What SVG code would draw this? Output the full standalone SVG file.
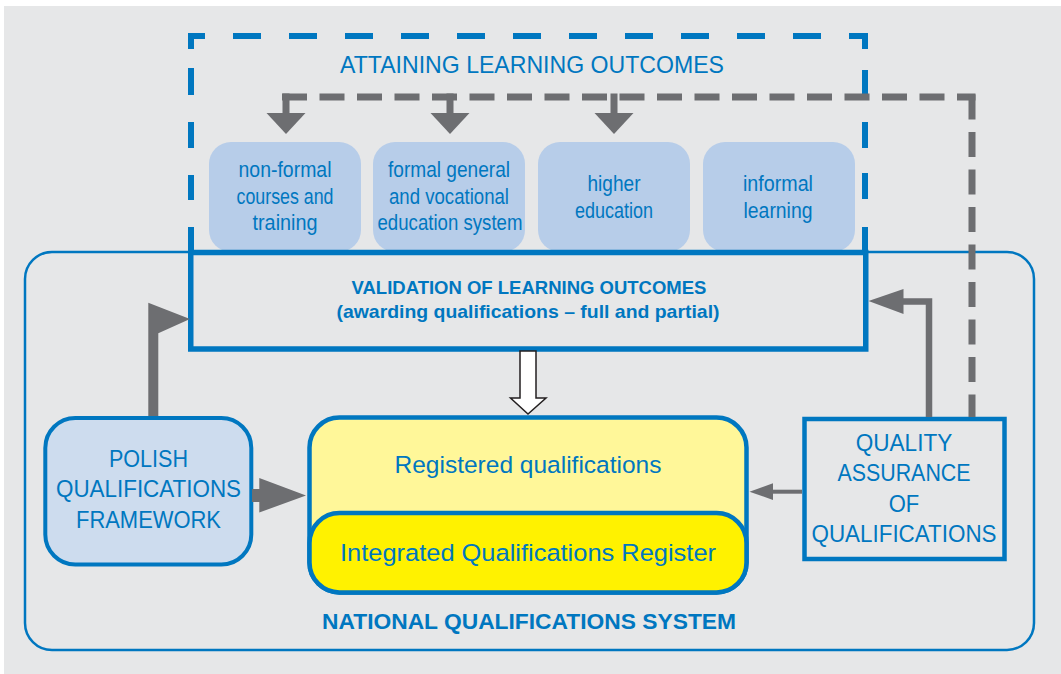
<svg xmlns="http://www.w3.org/2000/svg" width="1061" height="674" viewBox="0 0 1061 674">
<style>
.t{font-family:'Liberation Sans',Arial,sans-serif;fill:#0077c0;text-anchor:middle}
.b{font-weight:bold}
.src{fill:#b7cde9}
.bd{fill:none;stroke:#0077c0;stroke-width:6}
.gd{fill:none;stroke:#6d6e71;stroke-width:7;stroke-dasharray:25 12.5}
.g{fill:#6d6e71}
.gs{fill:none;stroke:#6d6e71}
</style>
<rect x="4" y="6" width="1057" height="668" fill="#e6e7e8"/>

<g id="national-qualifications-system">
<rect x="25" y="252" width="1009" height="398" rx="27" fill="none" stroke="#0077c0" stroke-width="2.5"/>
<text class="t b" x="529" y="629" font-size="22" textLength="414" lengthAdjust="spacingAndGlyphs">NATIONAL QUALIFICATIONS SYSTEM</text>
</g>

<g id="box-nonformal">
<rect class="src" x="209" y="142" width="152" height="110" rx="22"/>
<text class="t" x="285" y="177" font-size="22.5" textLength="93" lengthAdjust="spacingAndGlyphs">non-formal</text>
<text class="t" x="285" y="204" font-size="22.5" textLength="97" lengthAdjust="spacingAndGlyphs">courses and</text>
<text class="t" x="285" y="230" font-size="22.5" textLength="65" lengthAdjust="spacingAndGlyphs">training</text>
</g>
<g id="box-formal">
<rect class="src" x="373" y="142" width="152" height="110" rx="22"/>
<text class="t" x="449" y="177" font-size="22.5" textLength="122" lengthAdjust="spacingAndGlyphs">formal general</text>
<text class="t" x="449" y="204" font-size="22.5" textLength="120" lengthAdjust="spacingAndGlyphs">and vocational</text>
<text class="t" x="450" y="230" font-size="22.5" textLength="145" lengthAdjust="spacingAndGlyphs">education system</text>
</g>
<g id="box-higher">
<rect class="src" x="538" y="142" width="152" height="110" rx="22"/>
<text class="t" x="614" y="191" font-size="22.5" textLength="53" lengthAdjust="spacingAndGlyphs">higher</text>
<text class="t" x="614" y="218" font-size="22.5" textLength="78" lengthAdjust="spacingAndGlyphs">education</text>
</g>
<g id="box-informal">
<rect class="src" x="703" y="142" width="152" height="110" rx="22"/>
<text class="t" x="778" y="191" font-size="22.5" textLength="70" lengthAdjust="spacingAndGlyphs">informal</text>
<text class="t" x="778" y="218" font-size="22.5" textLength="69" lengthAdjust="spacingAndGlyphs">learning</text>
</g>

<g id="attaining-learning-outcomes">
<path class="bd" d="M188,36 H868" stroke-dasharray="28 28" stroke-dashoffset="11"/>
<path class="bd" d="M191,33 V253" stroke-dasharray="16 19 27 27 26 27 25 27 30"/>
<path class="bd" d="M865,33 V253" stroke-dasharray="16 21 25 27 26 25 26 28 30"/>
<text class="t" x="532" y="73" font-size="24.5" textLength="384" lengthAdjust="spacingAndGlyphs">ATTAINING LEARNING OUTCOMES</text>
</g>

<g id="validation">
<rect x="190.75" y="252.5" width="675" height="96.5" fill="none" stroke="#0077c0" stroke-width="5.5"/>
<text class="t b" x="529" y="294" font-size="18.5">VALIDATION OF LEARNING OUTCOMES</text>
<text class="t b" x="528" y="318" font-size="18.5" textLength="383" lengthAdjust="spacingAndGlyphs">(awarding qualifications – full and partial)</text>
</g>

<g id="registered-qualifications">
<rect x="309.5" y="417.5" width="437" height="175" rx="30" fill="#fff799" stroke="#0077c0" stroke-width="4.5"/>
<text class="t" x="528" y="472.5" font-size="24.5">Registered qualifications</text>
</g>
<g id="integrated-qualifications-register">
<rect x="309.5" y="513" width="437" height="79.5" rx="30" fill="#fff200" stroke="#0077c0" stroke-width="4.5"/>
<text class="t" x="528" y="561" font-size="24.5" textLength="376" lengthAdjust="spacingAndGlyphs">Integrated Qualifications Register</text>
</g>

<g id="polish-qualifications-framework">
<rect x="45.3" y="418" width="206" height="146.5" rx="30" fill="#cddcee" stroke="#0077c0" stroke-width="4"/>
<text class="t" x="148.5" y="466.5" font-size="24" textLength="79" lengthAdjust="spacingAndGlyphs">POLISH</text>
<text class="t" x="148.5" y="497" font-size="24" textLength="185" lengthAdjust="spacingAndGlyphs">QUALIFICATIONS</text>
<text class="t" x="148.5" y="527.5" font-size="24" textLength="145" lengthAdjust="spacingAndGlyphs">FRAMEWORK</text>
</g>

<g id="quality-assurance">
<rect x="804.5" y="419" width="200" height="140" fill="none" stroke="#0077c0" stroke-width="4.5"/>
<text class="t" x="904" y="450.5" font-size="24" textLength="96.5" lengthAdjust="spacingAndGlyphs">QUALITY</text>
<text class="t" x="904" y="480.5" font-size="24" textLength="133" lengthAdjust="spacingAndGlyphs">ASSURANCE</text>
<text class="t" x="904" y="511.5" font-size="24" textLength="30.5" lengthAdjust="spacingAndGlyphs">OF</text>
<text class="t" x="904" y="541.5" font-size="24" textLength="185" lengthAdjust="spacingAndGlyphs">QUALIFICATIONS</text>
</g>

<g id="connectors">
<path class="gd" d="M282,97 H975.5"/>
<path class="gd" d="M972,94 V417" stroke-dashoffset="-0.5"/>
<path class="gs" stroke-width="7" d="M286,93.5 V114 M450,93.5 V114 M614,93.5 V114"/>
<polygon class="g" points="266.5,113 305.5,113 286,134"/>
<polygon class="g" points="430.5,113 469.5,113 450,134"/>
<polygon class="g" points="594.5,113 633.5,113 614,134"/>
<polygon points="520,351 536,351 536,398 546,398 528,414 510.5,398 520,398" fill="#ffffff" stroke="#231f20" stroke-width="1.5" stroke-linejoin="miter"/>
<polygon class="g" points="148.3,416 148.3,302.7 190,319 158.3,333.3 158.3,416"/>
<polygon class="g" points="252,489 259.3,489 259.3,478 306,495.5 259.3,512.5 259.3,502 252,502"/>
<path class="gs" stroke-width="4" d="M802,491.7 H771"/>
<polygon class="g" points="749.5,491.7 773,483.3 773,500"/>
<path class="gs" stroke-width="6.5" d="M929,417 V301.5 H901"/>
<polygon class="g" points="868.5,301 903.5,289 903.5,314"/>
</g>
</svg>
